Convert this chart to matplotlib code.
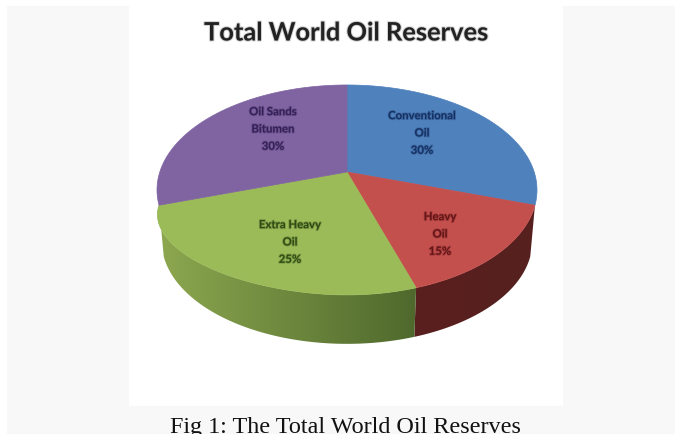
import matplotlib
matplotlib.use('Agg')
import numpy as np
from matplotlib import pyplot as plt, patheffects
from matplotlib.patches import Polygon, Rectangle
from matplotlib.colors import to_rgb

labels = ['Conventional\nOil\n30%', 'Heavy\nOil\n15%', 'Extra Heavy\nOil\n25%', 'Oil Sands\nBitumen\n30%']
shares = [30, 15, 25, 30]
tops = ['#4f81bd', '#c4504d', '#9bbb59', '#8064a2']
text_colors = ['#10295a', '#5a0f12', '#24400c', '#2d1a4f']
# side wall colours, left to right; the back slices have no visible wall
walls = [None, ['#5a1f1e', '#55211f'], ['#8da84f', '#4f692d'], None]

cx, cy = 347, 172
rx, ry = 187.2, 101.9
tilt = 0.171
# lower rim of the disc
low_cy, low_scale = 224, 0.975


def project(frac, cy0=cy, scale=1.0):
    # position on the tilted disc for a clockwise fraction from 12 o'clock
    t = 2 * np.pi * np.asarray(frac)
    u, v = np.sin(t), np.cos(t)
    w = 1 + tilt * v
    return cx + scale * rx * u / w, cy0 - scale * ry * v / w


def rim(frac):
    # upper rim, slightly fuller on the lower left like the drawn 3D disc
    frac = np.asarray(frac)
    x, y = project(frac)
    s = np.clip((frac - 0.5) / 0.2, 0, 1)
    bulge = 0.47 * s ** 3 * (1 - s)
    return cx + (x - cx) * (1 + bulge), cy + (y - cy) * (1 + bulge)


fig = plt.figure(figsize=(6.75, 4.34), dpi=100)
ax = fig.add_axes([0, 0, 1, 1])
ax.axis('off')

ax.add_patch(Rectangle((7, 6), 668, 428, fc='#f8f8f8', ec='none', zorder=0))
ax.add_patch(Rectangle((129, 6), 434, 400, fc='white', ec='none', zorder=1))

edges = np.cumsum([0] + shares) / sum(shares)

# side walls, shaded left to right with a clipped gradient
for i in range(len(shares)):
    if walls[i] is None:
        continue
    fr = np.linspace(edges[i], edges[i + 1], 120)
    x0, y0 = rim(fr)
    x1, y1 = project(fr, low_cy, low_scale)
    pts = list(zip(x0, y0)) + list(zip(x1[::-1], y1[::-1]))
    poly = Polygon(pts, fc='none', ec='none', zorder=2)
    ax.add_patch(poly)
    c0, c1 = np.array(to_rgb(walls[i][0])), np.array(to_rgb(walls[i][1]))
    grad = np.linspace(0, 1, 256)[:, None]
    img = (c0 + (c1 - c0) * grad)[None, :, :]
    xs = np.r_[x0, x1]
    ys = np.r_[y0, y1]
    im = ax.imshow(img, extent=(xs.min(), xs.max(), ys.max(), ys.min()), aspect='auto', zorder=2)
    im.set_clip_path(poly)

# top face
for i in range(len(shares)):
    fr = np.linspace(edges[i], edges[i + 1], 120)
    x, y = rim(fr)
    pts = [(cx, cy)] + list(zip(x, y))
    ax.add_patch(Polygon(pts, fc=tops[i], ec=tops[i], lw=0.5, zorder=3))

ax.set_xlim(0, 675)
ax.set_ylim(434, 0)

label_xy = [(422, 133), (440, 234), (290, 242), (273, 129)]
for (lx, ly), s, c in zip(label_xy, labels, text_colors):
    ax.text(lx, ly, s, ha='center', va='center', fontsize=8.2, fontweight='bold',
            family='Lato', color=c, linespacing=1.7, alpha=0.85, zorder=4,
            path_effects=[patheffects.withStroke(linewidth=1.3, foreground=c, alpha=0.25)])

ax.text(346, 33, 'Total World Oil Reserves', ha='center', va='center', fontsize=18.3,
        fontweight='bold', family='Lato', color='#222222', zorder=4,
        path_effects=[patheffects.withStroke(linewidth=1.5, foreground='#222222', alpha=0.2)])
ax.text(345, 433, 'Fig 1: The Total World Oil Reserves', ha='center', va='baseline',
        fontsize=17.4, family='Liberation Serif', color='#111111', zorder=4)

fig.savefig('out.png', dpi=100)
